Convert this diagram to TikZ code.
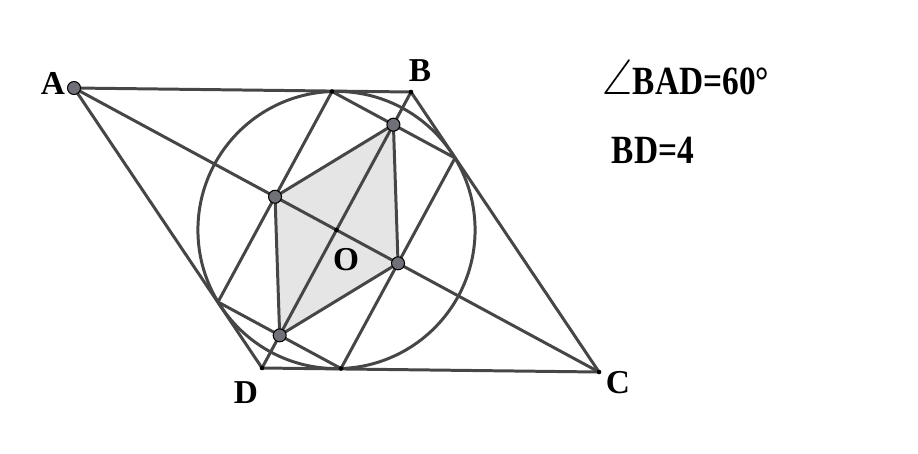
\documentclass[tikz,border=0pt]{standalone}
\usepackage{amsmath,amssymb}
\usepackage{fontspec}
\setmainfont{Liberation Serif}
\usepackage{xcolor}
\usepackage{tikz}
\usetikzlibrary{calc}
\definecolor{GrisTrazo}{RGB}{70,70,70}
\definecolor{GrisRelleno}{RGB}{229,229,229}
\definecolor{GrisPunto}{RGB}{112,112,120}

\begin{document}
\begin{tikzpicture}[x=0.02cm,y=-0.02cm,line join=round,
  trazo/.style={GrisTrazo,line width=1.7pt},
  etiqueta/.style={font=\fontsize{19}{21}\selectfont\bfseries,inner sep=0pt}]
  \useasboundingbox (0,0) rectangle (918,453);
  % rombo ABCD
  \coordinate (A) at (74,88);
  \coordinate (B) at (411,92);
  \coordinate (D) at (262,368);
  \coordinate (C) at ($(B)+(D)-(A)$);
  \coordinate (O) at ($(A)!0.5!(C)$);
  % puntos de tangencia
  \coordinate (E) at (332,91.5);
  \coordinate (F) at (455,158);
  \coordinate (G) at ($2*(O)-(E)$);
  \coordinate (H) at ($2*(O)-(F)$);
  \coordinate (P) at (intersection of A--C and E--H);
  \coordinate (Q) at (intersection of B--D and E--F);
  \coordinate (R) at (intersection of A--C and F--G);
  \coordinate (S) at (intersection of B--D and G--H);
  \fill[GrisRelleno] (P)--(Q)--(R)--(S)--cycle;
  \draw[trazo] let \p1=($(E)-(O)$), \n1={veclen(\x1,\y1)} in (O) circle (\n1);
  \draw[trazo] (A)--(B)--(C)--(D)--cycle;
  \draw[trazo] (E)--(F)--(G)--(H)--cycle;
  \draw[trazo] (A)--(C) (B)--(D);
  \draw[trazo] (P)--(Q)--(R)--(S)--cycle;
  \foreach \p in {B,C,D,E,G,O}
    \fill (\p) circle (2.3);
  \foreach \p in {A,P,Q,R,S}
    \filldraw[fill=GrisPunto,draw=black,line width=0.6pt] (\p) circle (6.5);
  \node[etiqueta] at (53,83) {A};
  \node[etiqueta] at (420,71) {B};
  \node[etiqueta] at (618,383) {C};
  \node[etiqueta] at (246,393) {D};
  \node[etiqueta] at (346,260) {O};
  \node[etiqueta] at (686,77) {\scalebox{1}[1.2]{\scalebox{1.25}{$\angle$}BAD=60°}};
  \node[etiqueta] at (653,150) {\scalebox{1}[1.2]{BD=4}};
\end{tikzpicture}
\end{document}
